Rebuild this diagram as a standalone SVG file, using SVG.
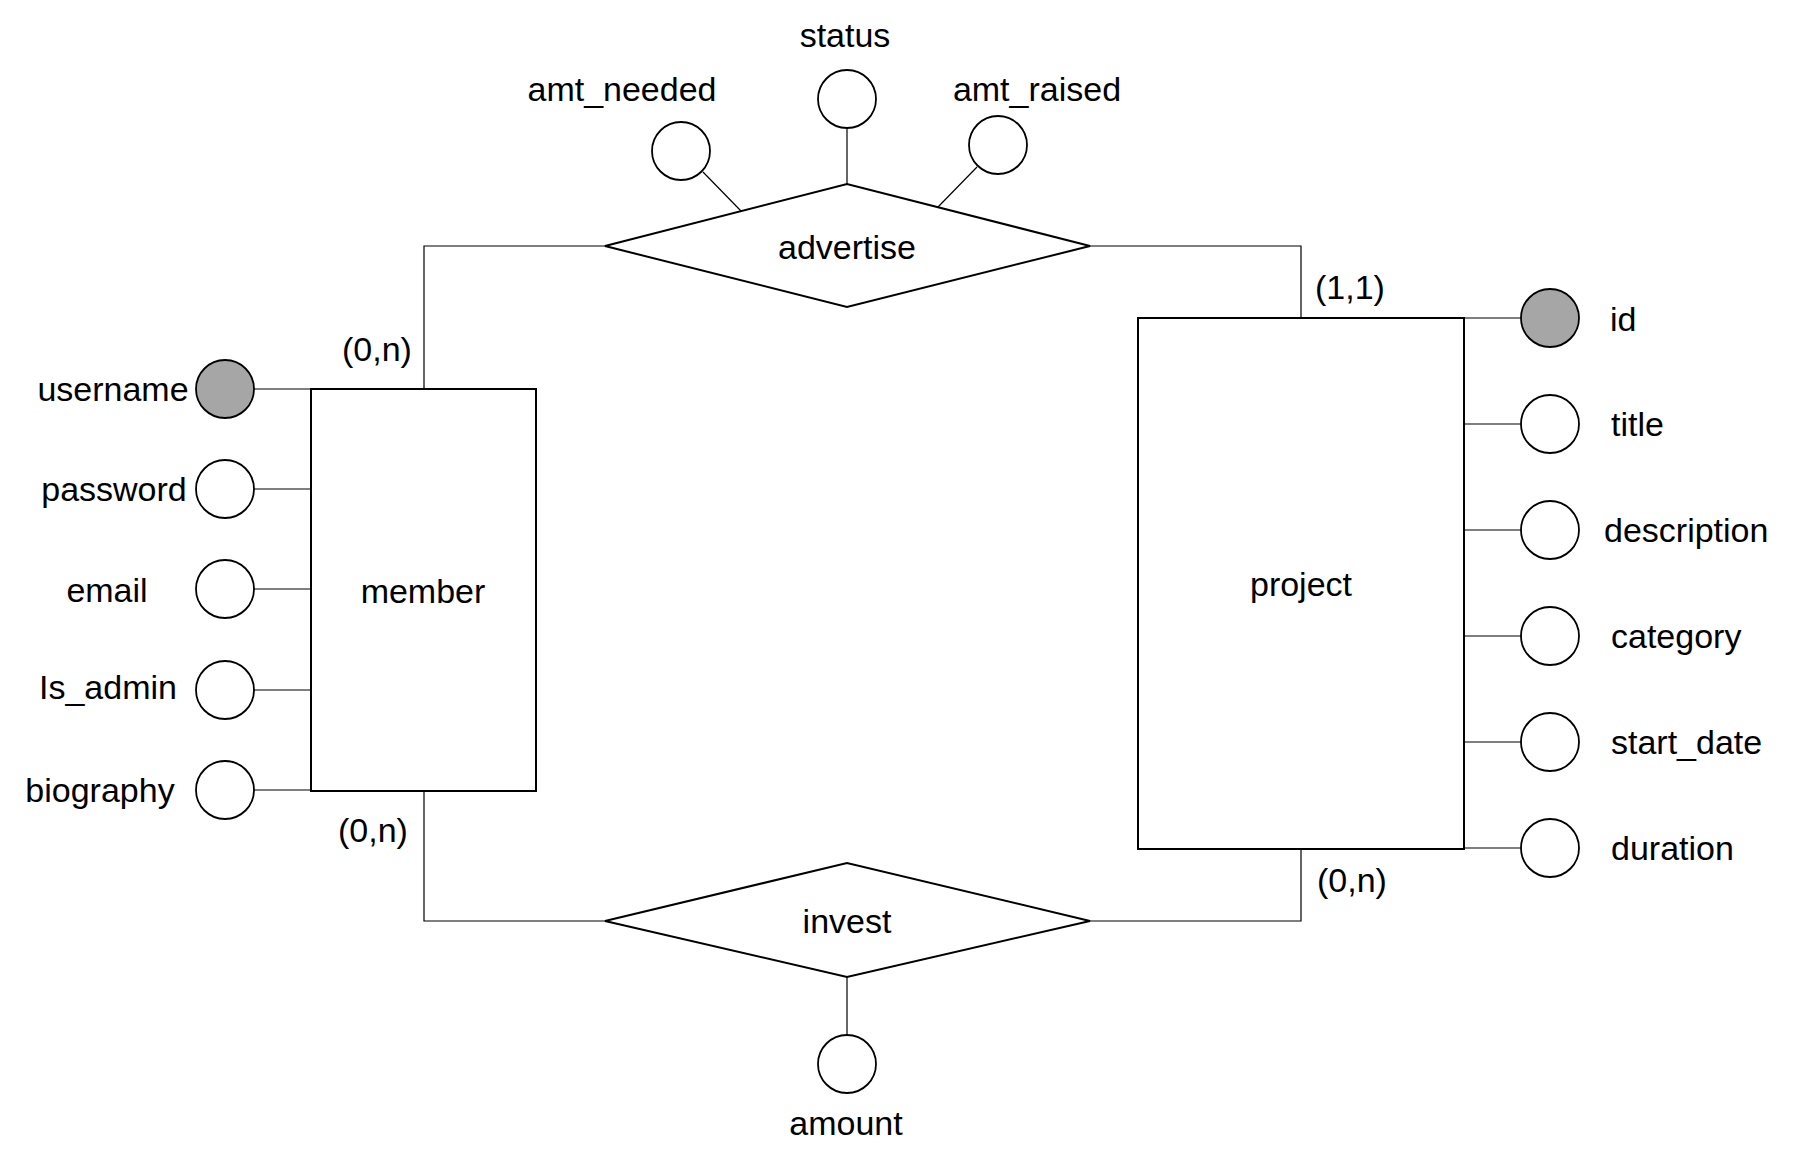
<svg xmlns="http://www.w3.org/2000/svg" width="1797" height="1168" viewBox="0 0 1797 1168">
<style>
text{font-family:"Liberation Sans",Arial,sans-serif;font-size:34px;fill:#000}
.m{text-anchor:middle}
.s{text-anchor:start}
.ent,.rel{fill:#fff;stroke:#000;stroke-width:2}
.att{fill:#fff;stroke:#000;stroke-width:1.8}
.key{fill:#a6a6a6;stroke:#000;stroke-width:1.8}
.con line,.con polyline{stroke:#000;stroke-width:1.2;fill:none}
</style>
<rect width="1797" height="1168" fill="#fff"/>
<g id="connectors" class="con">
<polyline points="605,246 424,246 424,389"/>
<polyline points="1090,246 1301,246 1301,318"/>
<polyline points="424,791 424,921 605,921"/>
<polyline points="1090,921 1301,921 1301,849"/>
<line x1="847" y1="128" x2="847" y2="184"/>
<line x1="703" y1="172" x2="741" y2="211"/>
<line x1="977" y1="167" x2="938" y2="207"/>
<line x1="847" y1="977" x2="847" y2="1035"/>
<line x1="254" y1="389" x2="311" y2="389"/>
<line x1="254" y1="489" x2="311" y2="489"/>
<line x1="254" y1="589" x2="311" y2="589"/>
<line x1="254" y1="690" x2="311" y2="690"/>
<line x1="254" y1="790" x2="311" y2="790"/>
<line x1="1464" y1="318" x2="1521" y2="318"/>
<line x1="1464" y1="424" x2="1521" y2="424"/>
<line x1="1464" y1="530" x2="1521" y2="530"/>
<line x1="1464" y1="636" x2="1521" y2="636"/>
<line x1="1464" y1="742" x2="1521" y2="742"/>
<line x1="1464" y1="848" x2="1521" y2="848"/>
</g>
<g id="member"><rect class="ent" x="311" y="389" width="225" height="402"/><text class="m" x="423" y="603">member</text></g>
<g id="project"><rect class="ent" x="1138" y="318" width="326" height="531"/><text class="m" x="1301" y="596">project</text></g>
<g id="advertise"><polygon class="rel" points="605,246 847,184 1090,246 847,307"/><text class="m" x="847" y="259">advertise</text></g>
<g id="invest"><polygon class="rel" points="605,921 847,863 1090,921 847,977"/><text class="m" x="847" y="933">invest</text></g>
<g id="card-member-advertise"><text class="m" x="377" y="361">(0,n)</text></g>
<g id="card-project-advertise"><text class="m" x="1350" y="299">(1,1)</text></g>
<g id="card-member-invest"><text class="m" x="373" y="842">(0,n)</text></g>
<g id="card-project-invest"><text class="m" x="1352" y="892">(0,n)</text></g>
<g id="attr-status"><circle class="att" cx="847" cy="99" r="29"/><text class="m" x="845" y="47">status</text></g>
<g id="attr-amt_needed"><circle class="att" cx="681" cy="151" r="29"/><text class="m" x="622" y="101">amt_needed</text></g>
<g id="attr-amt_raised"><circle class="att" cx="998" cy="145" r="29"/><text class="m" x="1037" y="101">amt_raised</text></g>
<g id="attr-amount"><circle class="att" cx="847" cy="1064" r="29"/><text class="m" x="846" y="1135">amount</text></g>
<g id="attr-username"><circle class="key" cx="225" cy="389" r="29"/><text class="m" x="113" y="401">username</text></g>
<g id="attr-password"><circle class="att" cx="225" cy="489" r="29"/><text class="m" x="114" y="501">password</text></g>
<g id="attr-email"><circle class="att" cx="225" cy="589" r="29"/><text class="m" x="107" y="602">email</text></g>
<g id="attr-is_admin"><circle class="att" cx="225" cy="690" r="29"/><text class="m" x="108" y="699">Is_admin</text></g>
<g id="attr-biography"><circle class="att" cx="225" cy="790" r="29"/><text class="m" x="100" y="802">biography</text></g>
<g id="attr-id"><circle class="key" cx="1550" cy="318" r="29"/><text class="s" x="1610" y="331">id</text></g>
<g id="attr-title"><circle class="att" cx="1550" cy="424" r="29"/><text class="s" x="1611" y="436">title</text></g>
<g id="attr-description"><circle class="att" cx="1550" cy="530" r="29"/><text class="s" x="1604" y="542">description</text></g>
<g id="attr-category"><circle class="att" cx="1550" cy="636" r="29"/><text class="s" x="1611" y="648">category</text></g>
<g id="attr-start_date"><circle class="att" cx="1550" cy="742" r="29"/><text class="s" x="1611" y="754">start_date</text></g>
<g id="attr-duration"><circle class="att" cx="1550" cy="848" r="29"/><text class="s" x="1611" y="860">duration</text></g>
</svg>
